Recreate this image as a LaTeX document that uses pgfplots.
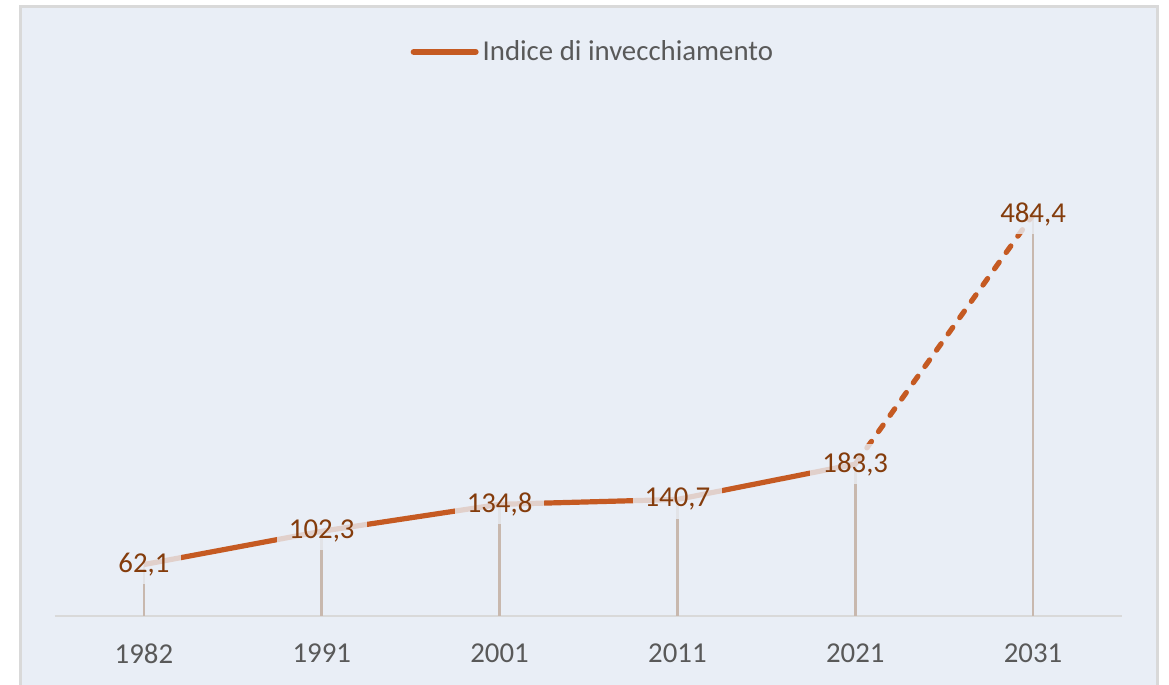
\documentclass[border=0pt]{standalone}
\usepackage{pgfplots}
\pgfplotsset{compat=1.18}
\usepackage{fontspec}
\setmainfont{Carlito}
\definecolor{bgc}{HTML}{E9EEF6}
\definecolor{brd}{HTML}{D9D9D9}
\definecolor{lin}{HTML}{C55A22}
\definecolor{lab}{HTML}{843C0C}
\definecolor{drop}{HTML}{C8B8AE}
\definecolor{tck}{HTML}{595959}
\begin{document}
\begin{tikzpicture}
\fill[bgc] (10pt,0pt) rectangle (578.5pt,339pt);
\draw[brd, line width=1.5pt] (10pt,-1pt) -- (10pt,339pt) -- (578.5pt,339pt) -- (578.5pt,-1pt);
\begin{axis}[
  at={(27.5pt,34.5pt)}, anchor=south west,
  scale only axis, width=533.5pt, height=248.5pt,
  xmin=-0.5, xmax=5.5, ymin=0, ymax=600,
  axis x line=bottom, axis y line=none,
  x axis line style={-, brd, line width=1pt},
  xtick={0,1,2,3,4,5},
  xticklabels={1982,1991,2001,2011,2021,2031},
  major tick length=0pt,
  xticklabel style={font=\fontsize{14.4}{16}\selectfont, text=tck, yshift=-10.5pt},
  /pgf/number format/assume math mode=true,
  legend style={at={(0.505,1.135)}, anchor=center, draw=none, fill=none,
    font=\fontsize{14.4}{16}\selectfont, text=tck, inner sep=0pt},
  legend cell align=left,
  legend image code/.code={\draw[lin, line width=3pt, line cap=round] (0pt,0pt) -- (31pt,0pt);},
  clip=false,
]
\addplot[ycomb, drop, line width=1.3pt, no markers, forget plot] coordinates {(0,62.1) (1,102.3) (2,134.8) (3,140.7) (4,183.3) (5,484.4)};
\addplot[lin, line width=2.6pt, no markers] coordinates {(0,62.1) (1,102.3) (2,134.8) (3,140.7) (4,183.3)};
\addlegendentry{Indice di invecchiamento}
\addplot[lin, line width=2.6pt, no markers, line cap=round, dash pattern=on 4pt off 6pt, forget plot] coordinates {(4,183.3) (5,484.4)};
\addplot[draw=none, no markers, forget plot,
  nodes near coords={\pgfmathprintnumber[fixed, fixed zerofill, precision=1, use comma]{\pgfplotspointmeta}},
  nodes near coords align={center},
  every node near coord/.append style={font=\fontsize{14.4}{16}\selectfont, text=lab, fill=bgc, fill opacity=0.8, text opacity=1, inner xsep=6pt, inner ysep=4pt, anchor=center}]
  coordinates {(0,62.1) (1,102.3) (2,134.8) (3,140.7) (4,183.3) (5,484.4)};
\end{axis}
\pgfresetboundingbox
\useasboundingbox (0,0) rectangle (584.5pt,342.5pt);
\end{tikzpicture}
\end{document}
